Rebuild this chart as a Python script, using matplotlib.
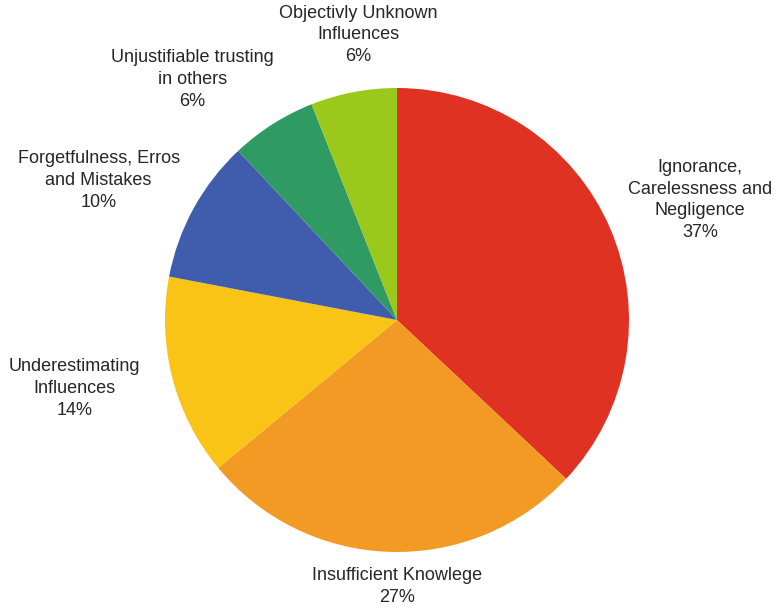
import matplotlib
matplotlib.use("Agg")
import matplotlib.pyplot as plt
import numpy as np

# Causes and their shares (%)
categories = [
    "Ignorance,\nCarelessness and\nNegligence",
    "Insufficient Knowlege",
    "Underestimating\nInfluences",
    "Forgetfulness, Erros\nand Mistakes",
    "Unjustifiable trusting\nin others",
    "Objectivly Unknown\nInfluences",
]
shares = [37, 27, 14, 10, 6, 6]
colors = ["#E03222", "#F39A24", "#F9C416", "#3F5DAC", "#2F9A62", "#9BC91B"]

# Label placement around the pie: (angle in degrees, distance in radii)
label_polar = [(21.6, 1.405), (-90.0, 1.15), (-168.0, 1.42),
               (154.9, 1.42), (130.4, 1.36), (97.8, 1.24)]

W, H = 780, 611
cx, cy, R = 397, 320, 232

fig = plt.figure(figsize=(W / 100, H / 100), dpi=100)
ax = fig.add_axes([0, 0, 1, 1])

ax.pie(shares, colors=colors, startangle=90, counterclock=False,
       radius=1.0, center=(0, 0), frame=True,
       wedgeprops=dict(linewidth=0))
ax.set_aspect("equal")
ax.set_xlim(-cx / R, (W - cx) / R)
ax.set_ylim(-(H - cy) / R, cy / R)
ax.axis("off")

for name, val, (ang, dist) in zip(categories, shares, label_polar):
    a = np.deg2rad(ang)
    ax.text(dist * np.cos(a), dist * np.sin(a), f"{name}\n{val}%",
            ha="center", va="center", multialignment="center",
            fontsize=13, color="#262626", family="Liberation Sans",
            linespacing=1.38)

fig.savefig("out.png", dpi=100, facecolor="white")
